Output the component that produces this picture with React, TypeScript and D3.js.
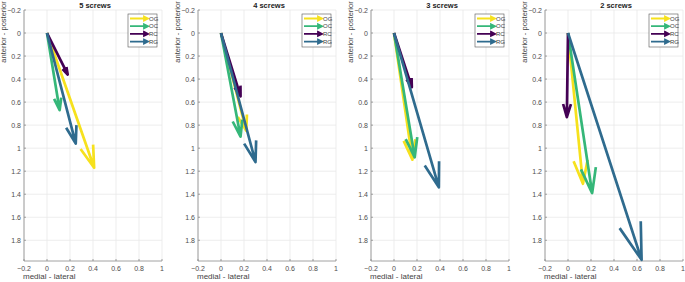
import React, { useEffect, useRef } from 'react';
import * as d3 from 'd3';

// Datos: un panel por número de tornillos
const panelTitles = ['5 screws', '4 screws', '3 screws', '2 screws'];
const seriesNames = ['OG', 'OC', 'RC', 'RG'];
const seriesColors = ['#f6e11d', '#35b779', '#440154', '#2f6b8e'];

// Componentes medial-lateral (u) y anterior-posterior (v) por serie, un valor por panel
const ogU = [0.41, 0.22, 0.16, 0.13];
const ogV = [1.17, 0.85, 1.1, 1.31];
const ocU = [0.11, 0.17, 0.18, 0.21];
const ocV = [0.67, 0.9, 1.08, 1.39];
const rcU = [0.18, 0.17, 0.155, -0.01];
const rcV = [0.36, 0.55, 0.47, 0.73];
const rgU = [0.25, 0.3, 0.39, 0.64];
const rgV = [0.96, 1.12, 1.34, 1.97];

const uSeries = [ogU, ocU, rcU, rgU];
const vSeries = [ogV, ocV, rcV, rgV];

const xTicks = [-0.2, 0, 0.2, 0.4, 0.6, 0.8, 1];
const yTicks = [-0.2, 0, 0.2, 0.4, 0.6, 0.8, 1, 1.2, 1.4, 1.6, 1.8];

// Dimensiones
const W = 685;
const H = 282;
const panelLefts = [24, 198, 371, 545];
const plotW = 138;
const plotTop = 10;
const plotBottom = 261;
const FONT = '"Liberation Sans", Arial, sans-serif';

const App = () => {
    const svgRef = useRef<SVGSVGElement | null>(null);

    useEffect(() => {
        const svg = d3.select(svgRef.current);
        svg.selectAll('*').remove();

        // Dibuja una flecha estilo quiver (línea + cabeza abierta)
        const arrowPath = (x0: number, y0: number, x1: number, y1: number, alpha = 0.155, beta = 0.3) => {
            const du = x1 - x0;
            const dv = y1 - y0;
            const b1x = x1 - alpha * (du + beta * dv);
            const b1y = y1 - alpha * (dv - beta * du);
            const b2x = x1 - alpha * (du - beta * dv);
            const b2y = y1 - alpha * (dv + beta * du);
            return `M${x0},${y0}L${x1},${y1}M${b1x},${b1y}L${x1},${y1}L${b2x},${b2y}`;
        };

        panelTitles.forEach((title, p) => {
            const left = panelLefts[p];
            const x = d3.scaleLinear().domain([-0.2, 1]).range([left, left + plotW]);
            const y = d3.scaleLinear().domain([-0.2, 1.98]).range([plotTop, plotBottom]);
            const g = svg.append('g');

            // Rejilla
            g.selectAll('line.gx')
                .data(xTicks)
                .join('line')
                .attr('x1', d => x(d)).attr('x2', d => x(d))
                .attr('y1', plotTop).attr('y2', plotBottom)
                .attr('stroke', '#e8e8e8').attr('stroke-width', 0.8);
            g.selectAll('line.gy')
                .data(yTicks)
                .join('line')
                .attr('x1', left).attr('x2', left + plotW)
                .attr('y1', d => y(d)).attr('y2', d => y(d))
                .attr('stroke', '#e8e8e8').attr('stroke-width', 0.8);

            // Ejes (solo izquierda y abajo)
            g.append('line')
                .attr('x1', left).attr('x2', left)
                .attr('y1', plotTop).attr('y2', plotBottom)
                .attr('stroke', '#8c8c8c').attr('stroke-width', 0.8);
            g.append('line')
                .attr('x1', left).attr('x2', left + plotW)
                .attr('y1', plotBottom).attr('y2', plotBottom)
                .attr('stroke', '#8c8c8c').attr('stroke-width', 0.8);

            // Marcas hacia dentro
            g.selectAll('line.tx')
                .data(xTicks)
                .join('line')
                .attr('x1', d => x(d)).attr('x2', d => x(d))
                .attr('y1', plotBottom).attr('y2', plotBottom - 2)
                .attr('stroke', '#8c8c8c').attr('stroke-width', 0.8);
            g.selectAll('line.ty')
                .data(yTicks)
                .join('line')
                .attr('x1', left).attr('x2', left + 2)
                .attr('y1', d => y(d)).attr('y2', d => y(d))
                .attr('stroke', '#8c8c8c').attr('stroke-width', 0.8);

            // Etiquetas de marcas
            g.selectAll('text.xt')
                .data(xTicks)
                .join('text')
                .attr('x', d => x(d))
                .attr('y', plotBottom + 10)
                .attr('text-anchor', 'middle')
                .style('font-family', FONT)
                .style('font-size', '7px')
                .style('fill', '#4d4d4d')
                .text(d => d3.format('~g')(d));
            g.selectAll('text.yt')
                .data(yTicks)
                .join('text')
                .attr('x', left - 3)
                .attr('y', d => y(d) + 2.5)
                .attr('text-anchor', 'end')
                .style('font-family', FONT)
                .style('font-size', '7px')
                .style('fill', '#4d4d4d')
                .text(d => d3.format('~g')(d));

            // Título y etiquetas de ejes
            g.append('text')
                .attr('x', left + plotW / 2 + 2)
                .attr('y', 7.5)
                .attr('text-anchor', 'middle')
                .style('font-family', FONT)
                .style('font-size', '7.5px')
                .style('font-weight', 'bold')
                .style('fill', '#222')
                .text(title);
            g.append('text')
                .attr('x', left - 1)
                .attr('y', 279)
                .attr('text-anchor', 'start')
                .style('font-family', FONT)
                .style('font-size', '8px')
                .style('fill', '#444')
                .text('medial - lateral');
            g.append('text')
                .attr('transform', `translate(${left - 18},32) rotate(-90)`)
                .attr('text-anchor', 'middle')
                .style('font-family', FONT)
                .style('font-size', '7.5px')
                .style('fill', '#444')
                .text('anterior - posterior');

            // Flechas
            seriesNames.forEach((name, s) => {
                g.append('path')
                    .attr('d', arrowPath(x(0), y(0), x(uSeries[s][p]), y(vSeries[s][p])))
                    .attr('fill', 'none')
                    .attr('stroke', seriesColors[s])
                    .attr('stroke-width', 2.7)
                    .attr('stroke-linejoin', 'round');
            });

            // Leyenda
            const lx = left + plotW - 34;
            const ly = 14;
            const lg = g.append('g');
            lg.append('rect')
                .attr('x', lx).attr('y', ly)
                .attr('width', 29).attr('height', 33)
                .attr('fill', '#fff')
                .attr('stroke', '#555').attr('stroke-width', 0.6);
            seriesNames.forEach((name, s) => {
                const yy = ly + 4.5 + s * 7.7;
                lg.append('path')
                    .attr('d', `M${lx + 2},${yy}L${lx + 19},${yy}M${lx + 16},${yy - 2}L${lx + 20},${yy}L${lx + 16},${yy + 2}Z`)
                    .attr('fill', seriesColors[s])
                    .attr('stroke', seriesColors[s])
                    .attr('stroke-width', 1.8);
                lg.append('text')
                    .attr('x', lx + 21)
                    .attr('y', yy + 2)
                    .style('font-family', FONT)
                    .style('font-size', '6px')
                    .style('fill', '#444')
                    .text(name);
            });
        });
    }, []);

    return (
        <svg
            ref={svgRef}
            width={W}
            height={H}
            style={{ position: 'absolute', left: 0, top: 0, background: '#fff', display: 'block' }}
        ></svg>
    );
};

export default App;
